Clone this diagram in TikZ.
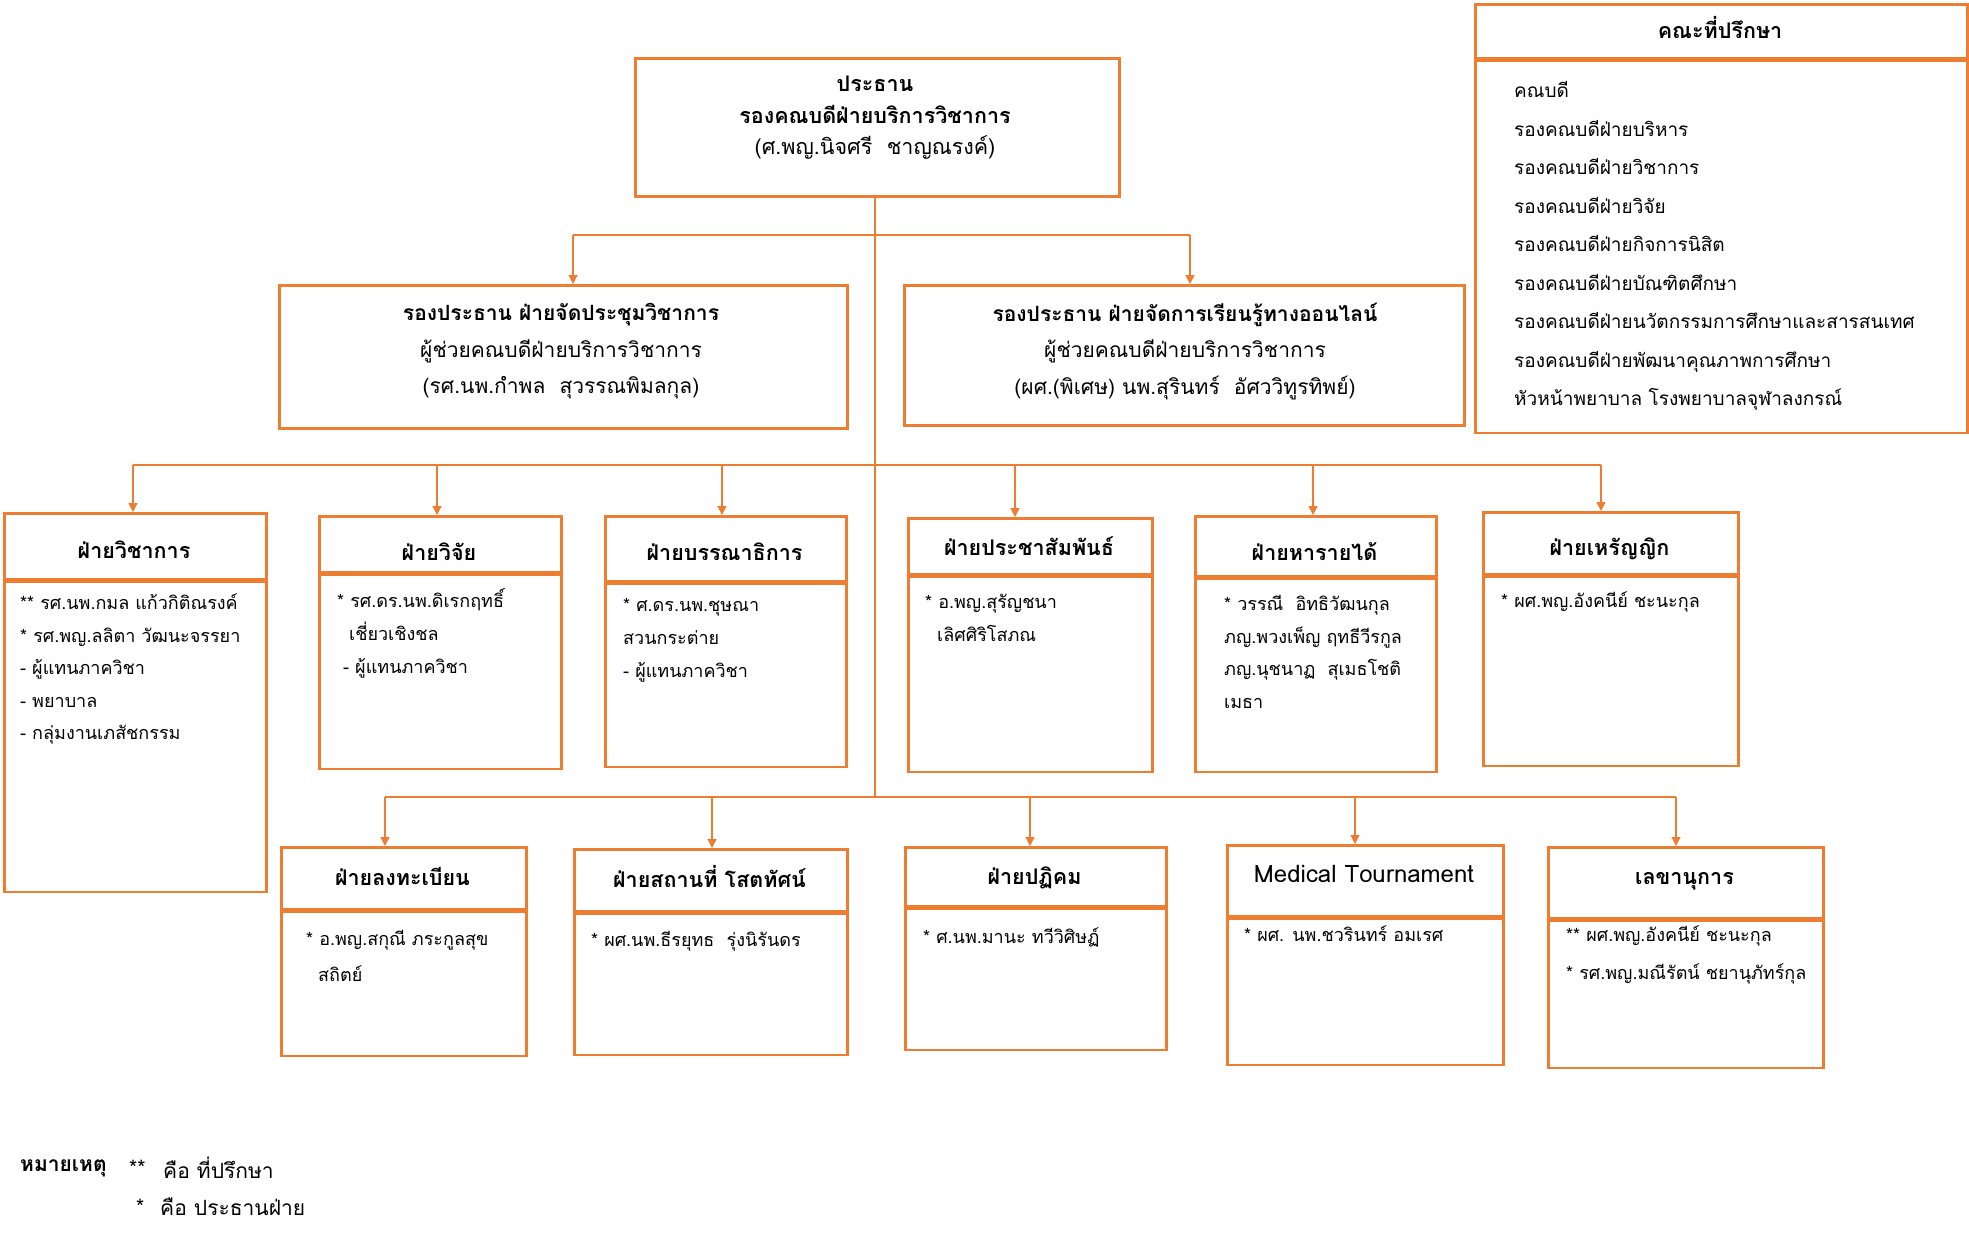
\documentclass[tikz,border=0pt]{standalone}
\usepackage{fontspec}
\setmainfont[Script=Thai]{Loma}
\usetikzlibrary{arrows.meta}
\definecolor{org}{HTML}{ED7D31}
\newcommand{\hdrf}{\bfseries\fontsize{21.5}{30}\selectfont}
\newcommand{\bodyf}{\fontsize{18}{32.5}\selectfont}
\begin{document}
\begin{tikzpicture}[x=1pt,y=-1pt,
  obox/.style={draw=org, line width=2.5pt, inner sep=0pt, anchor=north west, fill=white},
  htext/.style={anchor=center, inner sep=0pt, font=\hdrf},
  conn/.style={draw=org, line width=1.2pt},
  arr/.style={conn, -{Triangle[length=9pt,width=9pt]}},
  btext/.style={anchor=west, align=left, inner sep=0pt, font=\bodyf},
  ctext/.style={anchor=center, align=center, inner sep=0pt},
  ltext/.style={anchor=west, inner sep=0pt, font=\fontsize{21}{24}\selectfont}
]
\useasboundingbox[fill=white] (0,0) rectangle (1969,1250);

% top box
\node[obox, minimum width=484pt, minimum height=138pt] (top) at (634,57) {};
\node[ctext, font=\fontsize{21.5}{31.5}\selectfont] (toptxt) at (875,118)
  {\textbf{ประธาน}\\\textbf{รองคณบดีฝ่ายบริการวิชาการ}\\(ศ.พญ.นิจศรี\ \ ชาญณรงค์)};

% advisory box
\node[obox, minimum width=492pt, minimum height=54pt] (advh) at (1474,3) {};
\node[htext] (advht) at (1720,27) {คณะที่ปรึกษา};
\node[obox, minimum width=492pt, minimum height=372pt] (advb) at (advh.south west) {};
\node[btext, font=\fontsize{19}{38.5}\selectfont] (advtxt) at (1514,246)
  {คณบดี\\รองคณบดีฝ่ายบริหาร\\รองคณบดีฝ่ายวิชาการ\\รองคณบดีฝ่ายวิจัย\\รองคณบดีฝ่ายกิจการนิสิต\\รองคณบดีฝ่ายบัณฑิตศึกษา\\รองคณบดีฝ่ายนวัตกรรมการศึกษาและสารสนเทศ\\รองคณบดีฝ่ายพัฒนาคุณภาพการศึกษา\\หัวหน้าพยาบาล โรงพยาบาลจุฬาลงกรณ์};

% vice boxes
\node[obox, minimum width=568pt, minimum height=143pt] (vl) at (278,284) {};
\node[ctext, font=\fontsize{21}{36.5}\selectfont] (vltxt) at (561,351.5)
  {\textbf{รองประธาน ฝ่ายจัดประชุมวิชาการ}\\ผู้ช่วยคณบดีฝ่ายบริการวิชาการ\\(รศ.นพ.กำพล\ \ สุวรรณพิมลกุล)};
\node[obox, minimum width=560pt, minimum height=140pt] (vr) at (903,284) {};
\node[ctext, font=\fontsize{21}{36.5}\selectfont] (vrtxt) at (1185,351.5)
  {\textbf{รองประธาน ฝ่ายจัดการเรียนรู้ทางออนไลน์}\\ผู้ช่วยคณบดีฝ่ายบริการวิชาการ\\(ผศ.(พิเศษ) นพ.สุรินทร์\ \ อัศววิทูรทิพย์)};

% row 2
\node[obox, minimum width=262pt, minimum height=66pt] (a1h) at (3,512) {};
\node[htext] (a1ht) at (134,549.5) {ฝ่ายวิชาการ};
\node[obox, minimum width=262pt, minimum height=310pt] (a1b) at (a1h.south west) {};
\node[btext] (a1t) at (20,669) {** รศ.นพ.กมล แก้วกิติณรงค์\\* รศ.พญ.ลลิตา วัฒนะจรรยา\\- ผู้แทนภาควิชา\\- พยาบาล\\- กลุ่มงานเภสัชกรรม};

\node[obox, minimum width=242pt, minimum height=56pt] (a2h) at (318,515) {};
\node[htext] (a2ht) at (439,552) {ฝ่ายวิจัย};
\node[obox, minimum width=242pt, minimum height=194pt] (a2b) at (a2h.south west) {};
\node[btext, font=\fontsize{18}{33}\selectfont] (a2t) at (337,633) {* รศ.ดร.นพ.ดิเรกฤทธิ์\\\hspace*{12pt}เชี่ยวเชิงชล\\\hspace*{6pt}- ผู้แทนภาควิชา};

\node[obox, minimum width=241pt, minimum height=65pt] (a3h) at (604,515) {};
\node[htext] (a3ht) at (724.5,552) {ฝ่ายบรรณาธิการ};
\node[obox, minimum width=241pt, minimum height=183pt] (a3b) at (a3h.south west) {};
\node[btext, font=\fontsize{18}{33}\selectfont] (a3t) at (623,640.5) {* ศ.ดร.นพ.ชุษณา\\สวนกระต่าย\\- ผู้แทนภาควิชา};

\node[obox, minimum width=244pt, minimum height=56pt] (a4h) at (907,517) {};
\node[htext] (a4ht) at (1029,546.5) {ฝ่ายประชาสัมพันธ์};
\node[obox, minimum width=244pt, minimum height=195pt] (a4b) at (a4h.south west) {};
\node[btext] (a4t) at (925,618) {* อ.พญ.สุรัญชนา\\\hspace*{12pt}เลิศศิริโสภณ};

\node[obox, minimum width=241pt, minimum height=60pt] (a5h) at (1194,515) {};
\node[htext] (a5ht) at (1314.5,552) {ฝ่ายหารายได้};
\node[obox, minimum width=241pt, minimum height=193pt] (a5b) at (a5h.south west) {};
\node[btext] (a5t) at (1224,652) {* วรรณี\ \ อิทธิวัฒนกุล\\ภญ.พวงเพ็ญ ฤทธีวีรกูล\\ภญ.นุชนาฏ\ \ สุเมธโชติ\\เมธา};

\node[obox, minimum width=255pt, minimum height=62pt] (a6h) at (1482,511) {};
\node[htext] (a6ht) at (1609.5,549) {ฝ่ายเหรัญญิก};
\node[obox, minimum width=255pt, minimum height=189pt] (a6b) at (a6h.south west) {};
\node[btext] (a6t) at (1501,602) {* ผศ.พญ.อังคนีย์ ชะนะกุล};

% row 3
\node[obox, minimum width=245pt, minimum height=62pt] (b1h) at (280,846) {};
\node[htext] (b1ht) at (402.5,876) {ฝ่ายลงทะเบียน};
\node[obox, minimum width=245pt, minimum height=144pt] (b1b) at (b1h.south west) {};
\node[btext, font=\fontsize{18}{36}\selectfont] (b1t) at (306,956) {* อ.พญ.สกุณี ภระกูลสุข\\\hspace*{12pt}สถิตย์};

\node[obox, minimum width=273pt, minimum height=62pt] (b2h) at (573,848) {};
\node[htext] (b2ht) at (709.5,876) {ฝ่ายสถานที่ โสตทัศน์};
\node[obox, minimum width=273pt, minimum height=141pt] (b2b) at (b2h.south west) {};
\node[btext] (b2t) at (591,941) {* ผศ.นพ.ธีรยุทธ\ \ รุ่งนิรันดร};

\node[obox, minimum width=261pt, minimum height=59pt] (b3h) at (904,846) {};
\node[htext] (b3ht) at (1034.5,877.5) {ฝ่ายปฏิคม};
\node[obox, minimum width=261pt, minimum height=141pt] (b3b) at (b3h.south west) {};
\node[btext] (b3t) at (923,937) {* ศ.นพ.มานะ ทวีวิศิษฏ์};

\node[obox, minimum width=276pt, minimum height=71pt] (b4h) at (1226,844) {};
\node[htext, font=\fontsize{24}{30}\selectfont] (b4ht) at (1364,874) {Medical Tournament};
\node[obox, minimum width=276pt, minimum height=146pt] (b4b) at (b4h.south west) {};
\node[btext] (b4t) at (1244,934) {* ผศ. นพ.ชวรินทร์ อมเรศ};

\node[obox, minimum width=275pt, minimum height=71pt] (b5h) at (1547,846) {};
\node[htext] (b5ht) at (1684.5,881) {เลขานุการ};
\node[obox, minimum width=275pt, minimum height=147pt] (b5b) at (b5h.south west) {};
\node[btext, font=\fontsize{18}{38}\selectfont] (b5t) at (1566,955) {** ผศ.พญ.อังคนีย์ ชะนะกุล\\* รศ.พญ.มณีรัตน์ ชยานุภัทร์กุล};

% connectors
\coordinate (t1) at (875,797);
\draw[conn] (top.south -| t1) -- (t1);
\coordinate (s1) at (573,235);
\coordinate (s2) at (1190,235);
\draw[conn] (s1) -- (s2);
\draw[arr] (s1) -- (s1 |- vl.north);
\draw[arr] (s2) -- (s2 |- vr.north);

\coordinate (j1) at (133,465);
\coordinate (j2) at (437,465);
\coordinate (j3) at (722,465);
\coordinate (j4) at (1015,465);
\coordinate (j5) at (1313,465);
\coordinate (j6) at (1601,465);
\draw[conn] (j1) -- (j6);
\draw[arr] (j1) -- (j1 |- a1h.north);
\draw[arr] (j2) -- (j2 |- a2h.north);
\draw[arr] (j3) -- (j3 |- a3h.north);
\draw[arr] (j4) -- (j4 |- a4h.north);
\draw[arr] (j5) -- (j5 |- a5h.north);
\draw[arr] (j6) -- (j6 |- a6h.north);

\coordinate (k1) at (385,797);
\coordinate (k2) at (712,797);
\coordinate (k3) at (1030,797);
\coordinate (k4) at (1355,797);
\coordinate (k5) at (1676,797);
\draw[conn] (k1) -- (k5);
\draw[arr] (k1) -- (k1 |- b1h.north);
\draw[arr] (k2) -- (k2 |- b2h.north);
\draw[arr] (k3) -- (k3 |- b3h.north);
\draw[arr] (k4) -- (k4 |- b4h.north);
\draw[arr] (k5) -- (k5 |- b5h.north);

% legend
\node[ltext, font=\bfseries\fontsize{21}{24}\selectfont] (leg) at (20,1168) {หมายเหตุ};
\node[ltext] (leg1a) at (129,1168) {**};
\node[ltext] (leg1b) at (163,1168) {คือ ที่ปรึกษา};
\node[ltext] (leg2a) at (136,1207) {*};
\node[ltext] (leg2b) at (160,1207) {คือ ประธานฝ่าย};
\end{tikzpicture}
\end{document}
